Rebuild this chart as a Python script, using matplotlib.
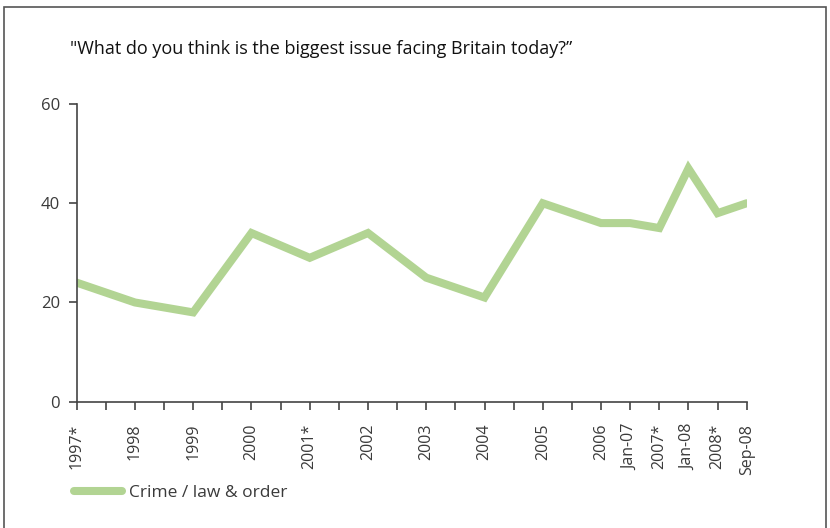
import matplotlib
matplotlib.use('Agg')
import matplotlib.pyplot as plt
from matplotlib.patches import Rectangle

#### DATA ####
labels = ["1997*", "1998", "1999", "2000", "2001*", "2002", "2003", "2004",
          "2005", "2006", "Jan-07", "2007*", "Jan-08", "2008*", "Sep-08"]
# slot on the axis for each survey (one slot = half a year)
slots = [0, 2, 4, 6, 8, 10, 12, 14, 16, 18, 19, 20, 21, 22, 23]
crime = [24, 20, 18, 34, 29, 34, 25, 21, 40, 36, 36, 35, 47, 38, 40]

title = "\"What do you think is the biggest issue facing Britain today?\u201d"
series_name = "Crime / law & order"

GREEN = "#b2d493"
AXIS = "#444444"
TEXT = "#3a3a3a"

plt.rcParams['font.family'] = ['Open Sans', 'DejaVu Sans']

fig = plt.figure(figsize=(8.3, 5.28), dpi=100)
ax = fig.add_axes([0.0924, 0.2392, 0.8072, 0.5638])

line, = ax.plot(slots, crime, color=GREEN, linewidth=5.8,
                solid_capstyle='round', solid_joinstyle='miter', label=series_name)

ax.set_xlim(0, 23)
ax.set_ylim(0, 60)
ax.set_yticks([0, 20, 40, 60])
ax.set_xticks(range(0, 24))
ax.set_xticklabels([labels[slots.index(i)] if i in slots else "" for i in range(24)],
                   rotation=90)

for side in ['top', 'right']:
    ax.spines[side].set_visible(False)
for side in ['left', 'bottom']:
    ax.spines[side].set_color(AXIS)
    ax.spines[side].set_linewidth(1.2)
ax.tick_params(axis='both', direction='out', color=AXIS, width=1.2, length=6,
               labelcolor=TEXT)
ax.tick_params(axis='x', pad=10, labelsize=11.5)
ax.tick_params(axis='y', pad=6, labelsize=12)

fig.text(70 / 830, 1 - 49 / 528, title, fontsize=13, color="#111111",
         va='center', ha='left')

fig.legend(handles=[line], loc='center left', bbox_to_anchor=(58 / 830, 1 - 493 / 528),
           frameon=False, fontsize=12.5, labelcolor=TEXT, handlelength=2.8,
           handletextpad=0.4)

# outer frame
fig.add_artist(Rectangle((4 / 830, -0.05), 822 / 830, 1 - 7 / 528 + 0.05,
                         transform=fig.transFigure, fill=False,
                         edgecolor="#555555", linewidth=1.2))

fig.savefig("out.png", dpi=100)
